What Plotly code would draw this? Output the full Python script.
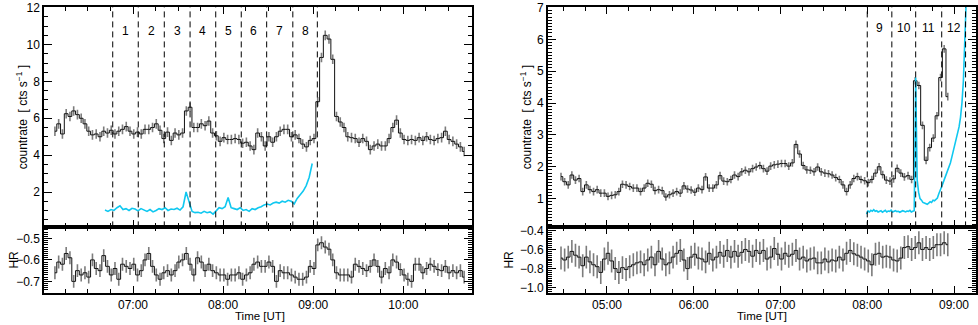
import numpy as np
import pandas as pd
import plotly.graph_objects as go

# ---------------- data ----------------
DAY = "2000-01-01"

# left panel: binned light curve (2.5 min bins)
L_START = "06:08:00"
L_BIN_MIN = 2.5
L_RATE = [5.3, 5.7, 5.15, 6.25, 6.1, 6.4, 6.2, 6.0, 5.7, 5.3,
          5.1, 5.15, 5.0, 5.3, 5.2, 5.35, 5.15, 5.3, 5.4, 5.55,
          5.3, 5.15, 5.25, 5.15, 5.4, 5.4, 5.5, 5.7, 5.35, 4.9,
          5.25, 4.8, 5.2, 5.1, 5.2, 6.4, 6.6, 5.5, 5.5, 5.7,
          5.6, 5.85, 5.2, 5.05, 4.75, 4.95, 4.85, 4.85, 4.9, 4.85,
          4.65, 4.7, 4.5, 4.3, 5.2, 5.0, 4.5, 5.0, 4.7, 5.0,
          5.3, 5.4, 5.4, 5.0, 5.1, 4.9, 4.6, 4.45, 4.8, 4.9,
          6.9, 9.3, 10.5, 10.3, 9.2, 6.1, 5.8, 5.5, 5.0, 4.95,
          4.9, 4.7, 4.9, 4.75, 4.3, 4.5, 4.6, 4.5, 4.5, 4.9,
          5.5, 5.9, 5.2, 4.85, 4.8, 4.85, 4.8, 4.95, 4.8, 5.0,
          4.85, 4.8, 4.9, 4.95, 5.3, 4.85, 4.75, 4.6, 4.45, 4.2]
L_RATE_ERR = 0.26
L_HR = [-0.66, -0.61, -0.62, -0.57, -0.59, -0.70, -0.65, -0.67, -0.66, -0.68,
        -0.60, -0.64, -0.65, -0.58, -0.63, -0.67, -0.64, -0.69, -0.62, -0.63,
        -0.64, -0.62, -0.67, -0.65, -0.60, -0.57, -0.63, -0.67, -0.69, -0.66,
        -0.65, -0.67, -0.65, -0.61, -0.60, -0.57, -0.62, -0.67, -0.59, -0.61,
        -0.65, -0.62, -0.65, -0.66, -0.67, -0.67, -0.69, -0.67, -0.67, -0.66,
        -0.69, -0.67, -0.66, -0.62, -0.61, -0.63, -0.63, -0.61, -0.63, -0.70,
        -0.65, -0.66, -0.66, -0.67, -0.68, -0.69, -0.69, -0.68, -0.63, -0.64,
        -0.53, -0.52, -0.54, -0.55, -0.60, -0.66, -0.67, -0.67, -0.67, -0.68,
        -0.62, -0.63, -0.64, -0.65, -0.63, -0.60, -0.63, -0.68, -0.64, -0.66,
        -0.60, -0.61, -0.645, -0.67, -0.69, -0.70, -0.62, -0.62, -0.66, -0.64,
        -0.62, -0.63, -0.645, -0.65, -0.63, -0.66, -0.65, -0.66, -0.65, -0.68]
L_HR_ERR = 0.03
# left panel: cyan comparison curve (2 min bins)
L_CYAN_START = "06:41:20"
L_CYAN_BIN_MIN = 2.0
L_CYAN = [1.02, 0.95, 1.05, 1.0, 1.15, 1.25, 1.05, 1.1, 1.0, 1.12,
          1.08, 0.98, 1.1, 1.02, 0.95, 1.05, 0.92, 1.0, 1.1, 1.05,
          1.15, 1.0, 1.08, 1.05, 1.12, 1.02, 1.2, 2.0, 1.4, 0.95,
          0.88, 0.9, 0.85, 0.95, 0.88, 0.92, 0.8, 1.0, 1.15, 1.1,
          1.2, 1.7, 1.15, 1.1, 1.05, 1.15, 1.0, 1.05, 0.95, 1.1,
          1.05, 1.15, 1.2, 1.3, 1.35, 1.3, 1.4, 1.45, 1.4, 1.5,
          1.45, 1.55, 1.5, 1.35, 1.65, 1.85, 2.05, 2.35, 2.8, 3.55]
L_DASHES = ["06:46:30", "07:03:30", "07:20:50", "07:38:00", "07:55:05",
            "08:12:05", "08:29:00", "08:46:25", "09:02:45"]
L_SEGMENT_LABELS = ["1", "2", "3", "4", "5", "6", "7", "8"]
L_XRANGE = ["06:00:56", "10:45:32"]

# right panel
R_START = "04:28:12"
R_BIN_MIN = 2.5
R_RATE = [1.69, 1.53, 1.43, 1.74, 1.58, 1.63, 1.22, 1.43, 1.28, 1.22,
          1.28, 1.17, 1.17, 1.07, 1.10, 1.12, 1.22, 1.45, 1.43, 1.38,
          1.33, 1.33, 1.22, 1.33, 1.48, 1.45, 1.25, 1.28, 1.25, 1.05,
          1.12, 1.17, 1.22, 1.17, 1.40, 1.30, 1.27, 1.20, 1.33, 1.28,
          1.68, 1.33, 1.33, 1.43, 1.72, 1.55, 1.53, 1.60, 1.74, 1.69,
          1.84, 1.89, 1.84, 1.94, 1.99, 2.04, 1.94, 1.86, 2.02, 2.06,
          2.08, 2.10, 2.10, 2.02, 2.12, 2.70, 2.40, 2.04, 1.90, 1.89,
          1.84, 1.99, 1.84, 1.80, 1.78, 1.74, 1.66, 1.60, 1.43, 1.22,
          1.43, 1.63, 1.69, 1.60, 1.56, 1.50, 1.60, 1.80, 2.00, 1.75,
          1.58, 1.55, 1.62, 1.95, 1.80, 1.68, 1.72, 1.60, 4.70, 4.55,
          3.30, 2.20, 2.60, 2.90, 3.60, 4.80, 5.70, 4.20]
R_RATE_ERR = 0.12
R_HR = [-0.69, -0.71, -0.68, -0.62, -0.66, -0.68, -0.77, -0.68, -0.73, -0.76,
        -0.78, -0.84, -0.70, -0.64, -0.72, -0.80, -0.84, -0.79, -0.81, -0.78,
        -0.76, -0.74, -0.73, -0.76, -0.71, -0.68, -0.76, -0.62, -0.70, -0.76,
        -0.74, -0.68, -0.64, -0.61, -0.71, -0.80, -0.68, -0.65, -0.69, -0.70,
        -0.73, -0.64, -0.71, -0.68, -0.63, -0.67, -0.61, -0.68, -0.62, -0.67,
        -0.63, -0.60, -0.62, -0.67, -0.61, -0.64, -0.61, -0.70, -0.68, -0.59,
        -0.65, -0.70, -0.64, -0.67, -0.65, -0.61, -0.70, -0.68, -0.72, -0.70,
        -0.69, -0.74, -0.74, -0.70, -0.73, -0.71, -0.72, -0.68, -0.71, -0.64,
        -0.61, -0.645, -0.66, -0.68, -0.70, -0.72, -0.76, -0.65, -0.64, -0.68,
        -0.67, -0.68, -0.71, -0.72, -0.69, -0.58, -0.57, -0.60, -0.58, -0.53,
        -0.60, -0.58, -0.60, -0.58, -0.55, -0.55, -0.53, -0.55]
R_HR_ERR = 0.12
R_CYAN_START = "07:59:30"
R_CYAN_BIN_MIN = 1.0
R_CYAN = [0.51, 0.61, 0.58, 0.63, 0.6, 0.65, 0.6, 0.62, 0.58, 0.6,
          0.62, 0.57, 0.6, 0.63, 0.58, 0.61, 0.6, 0.64, 0.58, 0.6,
          0.62, 0.59, 0.6, 0.57, 0.6, 0.62, 0.6, 0.58, 0.61, 0.6,
          0.63, 0.58, 0.6, 0.62, 4.8, 1.6, 1.2, 1.0, 0.95, 0.88,
          0.86, 0.83, 0.82, 0.86, 0.9, 0.88, 0.95, 0.93, 0.98, 1.02,
          1.15, 1.3, 1.38, 1.5, 1.62, 1.75, 1.85, 1.95, 2.12, 2.3,
          2.48, 2.62, 2.8, 3.0, 3.25, 3.55, 4.0, 4.7, 6.5, 7.3]
R_DASHES = ["08:00:00", "08:17:00", "08:33:30", "08:51:30", "09:08:00"]
R_SEGMENT_LABELS = ["9", "10", "11", "12"]
R_XRANGE = ["04:19:12", "09:15:13"]

# ---------------- helpers ----------------
BASE = pd.Timestamp(DAY)


def ts(t):
    return BASE + pd.Timedelta(t)


def bin_times(start, bin_min, n):
    return ts(start) + pd.to_timedelta(np.arange(n) * bin_min, unit="min")


FONT = "Liberation Sans, Arial, Helvetica, sans-serif"
GRAY = "#7c7c7c"
CYAN = "#10c8f0"

fig = go.Figure()


def add_curve(x, y, err, xa, ya):
    fig.add_trace(go.Scatter(
        x=x, y=y, mode="markers", marker=dict(size=0, color="rgba(0,0,0,0)"),
        error_y=dict(type="constant", value=err, color=GRAY, thickness=1.6, width=0),
        xaxis=xa, yaxis=ya, showlegend=False, hoverinfo="skip"))
    fig.add_trace(go.Scatter(
        x=x, y=y, mode="lines", line=dict(color="#111111", width=1, shape="hvh"),
        xaxis=xa, yaxis=ya, showlegend=False))


def add_cyan(x, y, xa, ya):
    fig.add_trace(go.Scatter(
        x=x, y=y, mode="lines", line=dict(color=CYAN, width=1.6),
        xaxis=xa, yaxis=ya, showlegend=False))


# left panel
add_cyan(bin_times(L_CYAN_START, L_CYAN_BIN_MIN, len(L_CYAN)), L_CYAN, "x", "y")
add_curve(bin_times(L_START, L_BIN_MIN, len(L_RATE)), L_RATE, L_RATE_ERR, "x", "y")
add_curve(bin_times(L_START, L_BIN_MIN, len(L_HR)), L_HR, L_HR_ERR, "x2", "y2")

# right panel
add_curve(bin_times(R_START, R_BIN_MIN, len(R_RATE)), R_RATE, R_RATE_ERR, "x3", "y3")
add_cyan(bin_times(R_CYAN_START, R_CYAN_BIN_MIN, len(R_CYAN)), R_CYAN, "x3", "y3")
add_curve(bin_times(R_START, R_BIN_MIN, len(R_HR)), R_HR, R_HR_ERR, "x4", "y4")

# ---------------- layout ----------------
W, H = 978, 325
LX = [44.3 / W, 471.7 / W]
RX = [548 / W, 976 / W]
TOPY = [1 - 227 / H, 1 - 1 / H]
HRY = [1 - 294 / H, 1 - 227 / H]

common = dict(showline=True, linecolor="black", linewidth=2, mirror="allticks",
              ticks="inside", tickcolor="black", tickwidth=1, showgrid=False,
              zeroline=False, ticklabeloverflow="allow",
              tickfont=dict(family=FONT, size=12, color="black"))


def xax(domain, anchor, rng, labels):
    return dict(common, domain=domain, anchor=anchor, type="date",
                range=[ts(rng[0]), ts(rng[1])], tickformat="%H:%M",
                tick0=DAY + " 00:00", dtick=3600000, ticklen=7,
                showticklabels=labels, ticklabelstandoff=0,
                minor=dict(ticks="inside", ticklen=4, tickcolor="black",
                           dtick=900000, tick0=DAY + " 00:00", showgrid=False))


def yax(domain, anchor, rng, dtick, mdtick, fmt):
    return dict(common, domain=domain, anchor=anchor, range=rng,
                tick0=0, dtick=dtick, ticklen=8, tickformat=fmt,
                minor=dict(ticks="inside", ticklen=4, tickcolor="black",
                           dtick=mdtick, tick0=0, showgrid=False))


fig.update_layout(
    width=W, height=H, margin=dict(l=0, r=0, t=0, b=0),
    paper_bgcolor="white", plot_bgcolor="white", showlegend=False,
    font=dict(family=FONT, size=12, color="black"),
    xaxis=xax(LX, "y", L_XRANGE, False),
    yaxis=yax(TOPY, "x", [0.08, 12.04], 2, 0.5, "d"),
    xaxis2=xax(LX, "y2", L_XRANGE, True),
    yaxis2=yax(HRY, "x2", [-0.753, -0.4486], 0.1, 0.01, ".1f"),
    xaxis3=xax(RX, "y3", R_XRANGE, False),
    yaxis3=yax(TOPY, "x3", [0.095, 7.015], 1, 0.1, "d"),
    xaxis4=xax(RX, "y4", R_XRANGE, True),
    yaxis4=yax(HRY, "x4", [-1.053, -0.369], 0.2, 0.02, ".1f"),
)

shapes = []
annotations = []


def dashes_and_labels(dashes, labels, xref, yref, label_y):
    for d in dashes:
        shapes.append(dict(type="line", xref=xref, yref=yref + " domain",
                           x0=ts(d), x1=ts(d), y0=0, y1=1,
                           line=dict(color="black", width=1, dash="6px,4px")))
    for k, lab in enumerate(labels):
        a, b = ts(dashes[k]), ts(dashes[k + 1])
        annotations.append(dict(text=lab, x=a + (b - a) / 2, xref=xref,
                                y=label_y, yref=yref + " domain", showarrow=False,
                                font=dict(family=FONT, size=12, color="black")))


dashes_and_labels(L_DASHES, L_SEGMENT_LABELS, "x", "y", 0.934)
dashes_and_labels(R_DASHES, R_SEGMENT_LABELS, "x3", "y3", 0.946)


def text(t, x, y, angle=0, yanchor="middle", size=12):
    annotations.append(dict(text=t, x=x / W, y=1 - y / H, xref="paper", yref="paper",
                            showarrow=False, textangle=angle, xanchor="center",
                            yanchor=yanchor, borderpad=0,
                            font=dict(family=FONT, size=size, color="black")))


YT = "countrate  [ cts s<sup>−1</sup> ]"
text(YT, 22, 114, -90)
text("HR", 14, 260, -90)
text("Time [UT]", 260, 325, yanchor="bottom", size=11.5)
text(YT, 526, 114, -90)
text("HR", 509, 260, -90)
text("Time [UT]", 762, 325, yanchor="bottom", size=11.5)

fig.update_layout(shapes=shapes, annotations=annotations)
fig.write_html("out.html",
               config={"displayModeBar": False},
               post_script="document.body.style.margin='0px';"
                           "document.body.style.overflow='hidden';")
